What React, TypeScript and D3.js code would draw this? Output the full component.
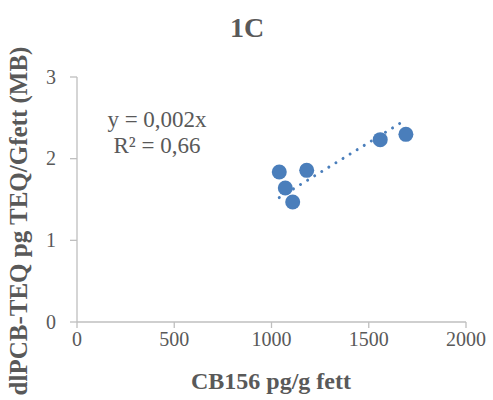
import React from "react";
import * as d3 from "d3";

// CB156 pg/g fett vs dlPCB-TEQ pg TEQ/Gfett (MB)
const cb156 = [1040, 1071, 1109, 1181, 1559, 1691];
const teq = [1.837, 1.641, 1.469, 1.857, 2.233, 2.298];
const xTicks = [0, 500, 1000, 1500, 2000];
const yTicks = [0, 1, 2, 3];
const equationLines = ["y = 0,002x", "R² = 0,66"];

const W = 493;
const H = 400;
const margin = { top: 77, right: 27, bottom: 78, left: 77 };
const font = "Liberation Serif, Times New Roman, serif";
const textColor = "#595959";
const axisColor = "#bfbfbf";
const pointColor = "#4a7ebb";

export default function App() {
  const x = d3
    .scaleLinear()
    .domain([0, 2000])
    .range([margin.left, W - margin.right]);
  const y = d3
    .scaleLinear()
    .domain([0, 3])
    .range([H - margin.bottom, margin.top]);

  // linear trendline through the origin (least squares)
  const sxy = d3.sum(cb156, (v, i) => v * teq[i]);
  const sxx = d3.sum(cb156, (v) => v * v);
  const slope = sxy / sxx;
  const [x0, x1] = d3.extent(cb156) as [number, number];
  const trend = d3
    .line<number>()
    .x((d) => x(d))
    .y((d) => y(d * slope))([x0, x1]);

  const y0 = y(0);
  const xLeft = x(0);
  const txt = { fontFamily: font, fill: textColor };

  return (
    <svg
      width={W}
      height={H}
      style={{ position: "absolute", left: 0, top: 0, background: "#fff" }}
    >
      <text x={247} y={37} textAnchor="middle" fontSize={28} fontWeight="bold" {...txt}>
        1C
      </text>

      {/* axes */}
      <line x1={xLeft} x2={x(2000)} y1={y0} y2={y0} stroke={axisColor} strokeWidth={1.3} />
      <line x1={xLeft} x2={xLeft} y1={y(3)} y2={y0} stroke={axisColor} strokeWidth={1.3} />
      {xTicks.map((t) => (
        <g key={"x" + t}>
          <line x1={x(t)} x2={x(t)} y1={y0} y2={y0 + 6} stroke={axisColor} strokeWidth={1.3} />
          <text x={x(t)} y={346} textAnchor="middle" fontSize={20} {...txt}>
            {t}
          </text>
        </g>
      ))}
      {yTicks.map((t) => (
        <g key={"y" + t}>
          <line x1={xLeft - 7} x2={xLeft} y1={y(t)} y2={y(t)} stroke={axisColor} strokeWidth={1.3} />
          <text x={56} y={y(t) + 6.5} textAnchor="end" fontSize={20} {...txt}>
            {t}
          </text>
        </g>
      ))}

      {/* points */}
      {cb156.map((v, i) => (
        <circle key={i} cx={x(v)} cy={y(teq[i])} r={7.5} fill={pointColor} />
      ))}

      {/* trendline */}
      <path
        d={trend ?? ""}
        fill="none"
        stroke={pointColor}
        strokeWidth={3}
        strokeLinecap="round"
        strokeDasharray="0.01 8.3"
      />

      {equationLines.map((s, i) => (
        <text key={s} x={157} y={127 + i * 26} textAnchor="middle" fontSize={23} {...txt}>
          {s}
        </text>
      ))}

      <text x={271} y={389} textAnchor="middle" fontSize={24} fontWeight="bold" {...txt}>
        CB156 pg/g fett
      </text>
      <text
        transform={`translate(27,221) rotate(-90)`}
        textAnchor="middle"
        fontSize={25}
        fontWeight="bold"
        {...txt}
      >
        dlPCB-TEQ pg TEQ/Gfett (MB)
      </text>
    </svg>
  );
}
